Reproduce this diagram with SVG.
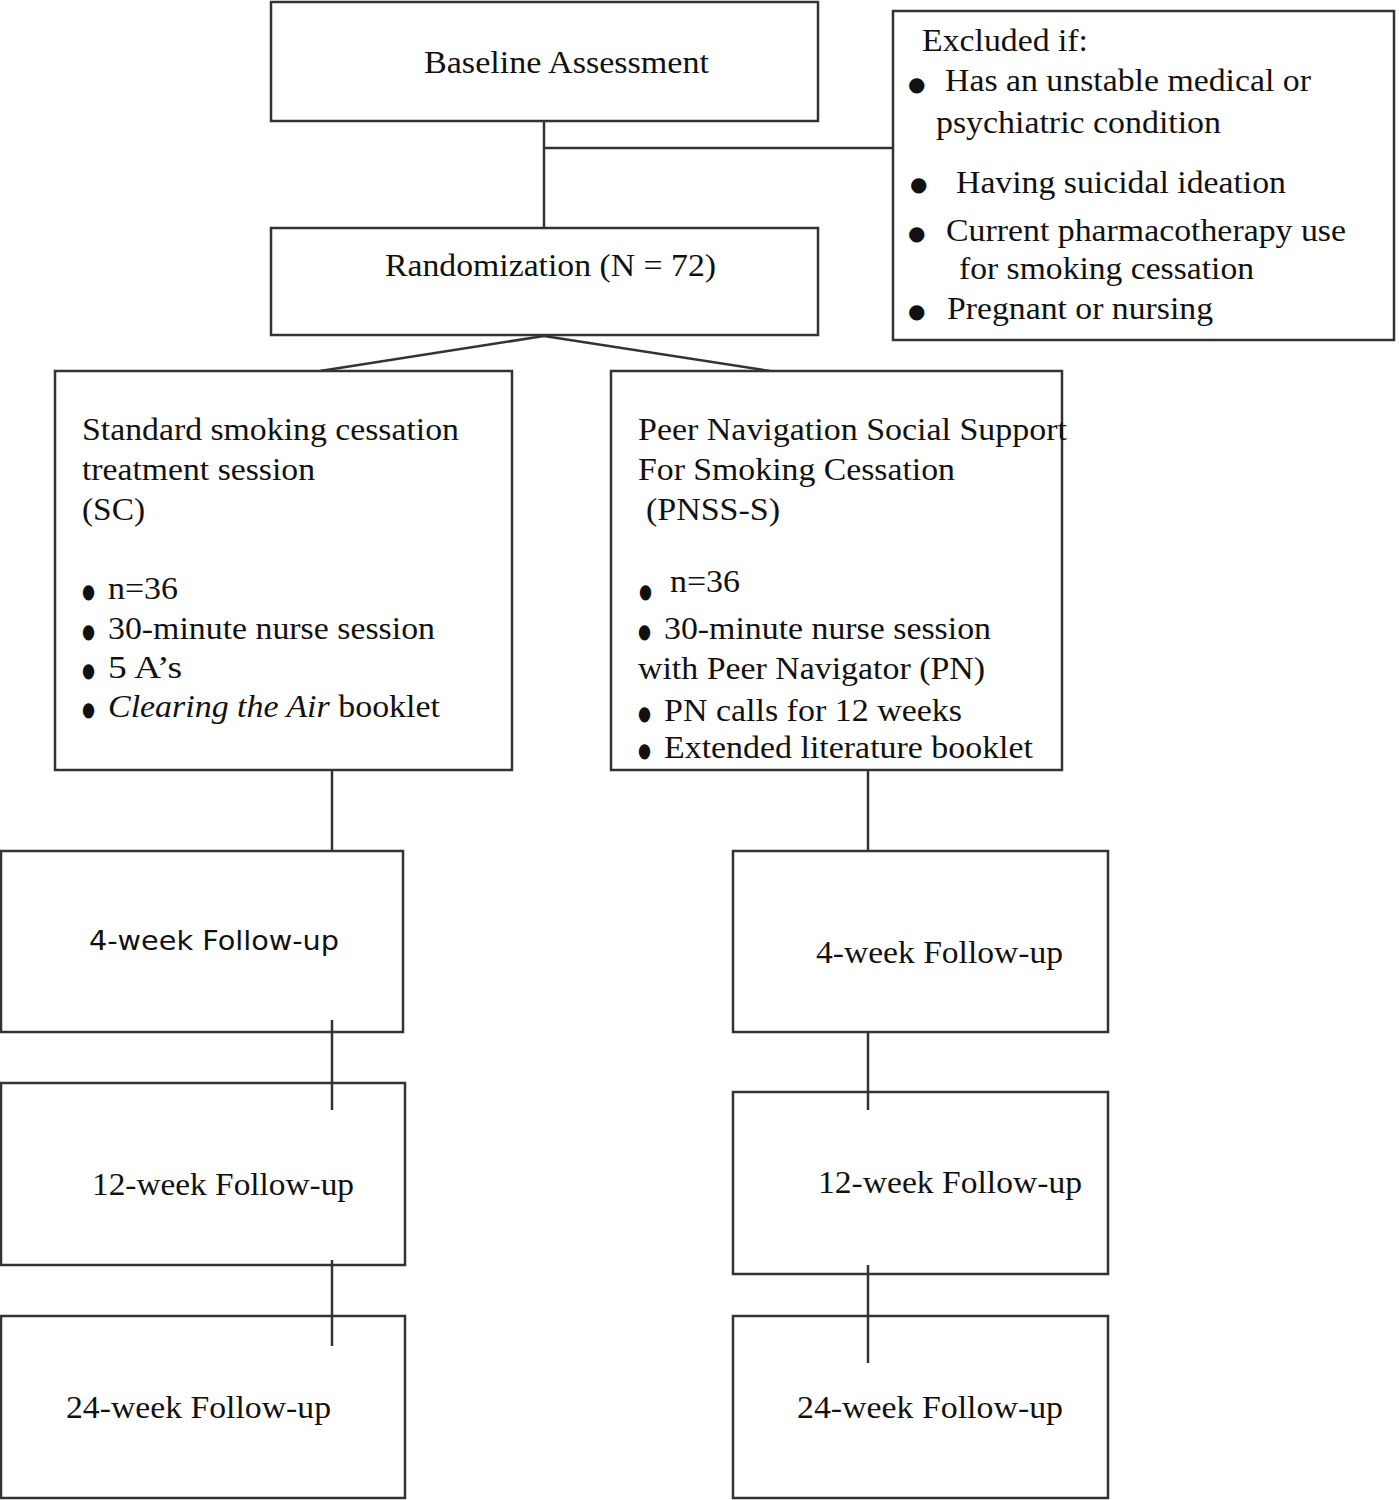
<svg xmlns="http://www.w3.org/2000/svg" width="1399" height="1500" viewBox="0 0 1399 1500">
<style>
rect{fill:#fff;stroke:#333;stroke-width:2.5}
.c line{stroke:#333;stroke-width:2.5}
text{font-family:"Liberation Serif","Times New Roman",serif;font-size:31px;fill:#111}
.s{font-family:"DejaVu Sans","Verdana",sans-serif;font-size:27px}
.b{font-family:"DejaVu Sans",sans-serif;font-size:20px}
</style>
<rect x="0" y="0" width="1399" height="1500" style="fill:#fff;stroke:none"/>
<g class="c" id="connectors">
<line x1="544" y1="121" x2="544" y2="228"/>
<line x1="544" y1="148" x2="893" y2="148"/>
<line x1="544" y1="336" x2="320" y2="371"/>
<line x1="544" y1="336" x2="770" y2="371"/>
<line x1="332" y1="770" x2="332" y2="851"/>
<line x1="868" y1="770" x2="868" y2="851"/>
</g>
<g id="baseline"><rect x="271" y="2" width="547" height="119"/>
<text x="424" y="73" textLength="285" lengthAdjust="spacingAndGlyphs">Baseline Assessment</text></g>
<g id="excluded"><rect x="893" y="11" width="501" height="329"/>
<text x="922" y="51" textLength="166" lengthAdjust="spacingAndGlyphs">Excluded if:</text>
<text class="b" x="908" y="91">●</text>
<text x="945" y="91" textLength="366" lengthAdjust="spacingAndGlyphs">Has an unstable medical or</text>
<text x="936" y="133" textLength="285" lengthAdjust="spacingAndGlyphs">psychiatric condition</text>
<text class="b" x="910" y="191">●</text>
<text x="956" y="193" textLength="330" lengthAdjust="spacingAndGlyphs">Having suicidal ideation</text>
<text class="b" x="908" y="240">●</text>
<text x="946" y="241" textLength="400" lengthAdjust="spacingAndGlyphs">Current pharmacotherapy use</text>
<text x="959" y="279" textLength="295" lengthAdjust="spacingAndGlyphs">for smoking cessation</text>
<text class="b" x="908" y="318">●</text>
<text x="947" y="319" textLength="266" lengthAdjust="spacingAndGlyphs">Pregnant or nursing</text></g>
<g id="randomization"><rect x="271" y="228" width="547" height="107"/>
<text x="385" y="276" textLength="331" lengthAdjust="spacingAndGlyphs">Randomization (N = 72)</text></g>
<g id="sc"><rect x="55" y="371" width="457" height="399"/>
<text x="82" y="440" textLength="377" lengthAdjust="spacingAndGlyphs">Standard smoking cessation</text>
<text x="82" y="480" textLength="233" lengthAdjust="spacingAndGlyphs">treatment session</text>
<text x="82" y="520" textLength="63" lengthAdjust="spacingAndGlyphs">(SC)</text>
<text class="b" x="82" y="598" textLength="13" lengthAdjust="spacingAndGlyphs">●</text>
<text x="108" y="599" textLength="70" lengthAdjust="spacingAndGlyphs">n=36</text>
<text class="b" x="82" y="638" textLength="13" lengthAdjust="spacingAndGlyphs">●</text>
<text x="108" y="639" textLength="327" lengthAdjust="spacingAndGlyphs">30-minute nurse session</text>
<text class="b" x="82" y="677" textLength="13" lengthAdjust="spacingAndGlyphs">●</text>
<text x="108" y="678" textLength="74" lengthAdjust="spacingAndGlyphs">5 A’s</text>
<text class="b" x="82" y="716" textLength="13" lengthAdjust="spacingAndGlyphs">●</text>
<text x="108" y="717" textLength="332" lengthAdjust="spacingAndGlyphs"><tspan font-style="italic">Clearing the Air</tspan> booklet</text></g>
<g id="pnss"><rect x="611" y="371" width="451" height="399"/>
<text x="638" y="440" textLength="429" lengthAdjust="spacingAndGlyphs">Peer Navigation Social Support</text>
<text x="638" y="480" textLength="317" lengthAdjust="spacingAndGlyphs">For Smoking Cessation</text>
<text x="646" y="520" textLength="134" lengthAdjust="spacingAndGlyphs">(PNSS-S)</text>
<text class="b" x="639" y="598" textLength="13" lengthAdjust="spacingAndGlyphs">●</text>
<text x="670" y="592" textLength="70" lengthAdjust="spacingAndGlyphs">n=36</text>
<text class="b" x="638" y="638" textLength="13" lengthAdjust="spacingAndGlyphs">●</text>
<text x="664" y="639" textLength="327" lengthAdjust="spacingAndGlyphs">30-minute nurse session</text>
<text x="638" y="679" textLength="347" lengthAdjust="spacingAndGlyphs">with Peer Navigator (PN)</text>
<text class="b" x="638" y="720" textLength="13" lengthAdjust="spacingAndGlyphs">●</text>
<text x="664" y="721" textLength="298" lengthAdjust="spacingAndGlyphs">PN calls for 12 weeks</text>
<text class="b" x="638" y="757" textLength="13" lengthAdjust="spacingAndGlyphs">●</text>
<text x="664" y="758" textLength="369" lengthAdjust="spacingAndGlyphs">Extended literature booklet</text></g>
<g id="l4"><rect x="1" y="851" width="402" height="181"/>
<text class="s" x="89" y="950" textLength="250" lengthAdjust="spacingAndGlyphs">4-week Follow-up</text></g>
<g id="l12"><rect x="1" y="1083" width="404" height="182"/>
<text x="92" y="1195" textLength="262" lengthAdjust="spacingAndGlyphs">12-week Follow-up</text></g>
<g id="l24"><rect x="1" y="1316" width="404" height="182"/>
<text x="66" y="1418" textLength="265" lengthAdjust="spacingAndGlyphs">24-week Follow-up</text></g>
<g id="r4"><rect x="733" y="851" width="375" height="181"/>
<text x="816" y="963" textLength="247" lengthAdjust="spacingAndGlyphs">4-week Follow-up</text></g>
<g id="r12"><rect x="733" y="1092" width="375" height="182"/>
<text x="818" y="1193" textLength="264" lengthAdjust="spacingAndGlyphs">12-week Follow-up</text></g>
<g id="r24"><rect x="733" y="1316" width="375" height="182"/>
<text x="797" y="1418" textLength="266" lengthAdjust="spacingAndGlyphs">24-week Follow-up</text></g>
<g class="c" id="connectors2">
<line x1="332" y1="1020" x2="332" y2="1110"/>
<line x1="332" y1="1260" x2="332" y2="1346"/>
<line x1="868" y1="1032" x2="868" y2="1110"/>
<line x1="868" y1="1265" x2="868" y2="1363"/>
</g>
</svg>
